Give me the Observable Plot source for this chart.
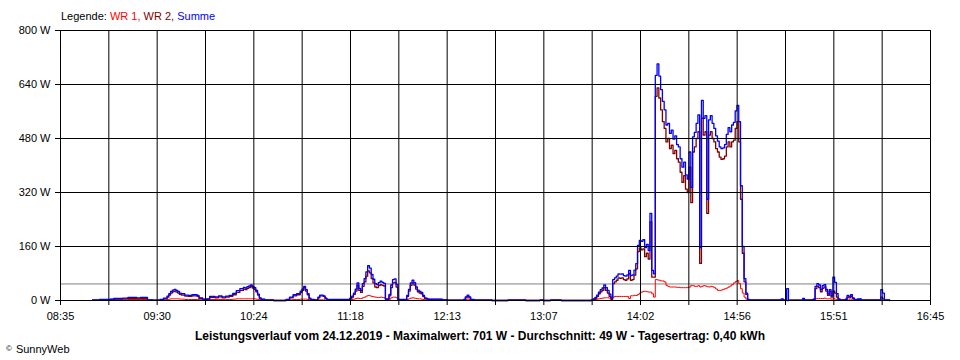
<!DOCTYPE html>
<html>
<head>
<meta charset="utf-8">
<script src="https://cdn.jsdelivr.net/npm/d3@7"></script>
<script src="https://cdn.jsdelivr.net/npm/@observablehq/plot@0.6"></script>
<style>
  body { margin: 0; background: #fff; font-family: "Liberation Sans", Arial, sans-serif; }
  #wrap { position: relative; width: 960px; height: 360px; overflow: hidden; background: #fff; }
  #chart { position: absolute; left: 0; top: 0; }
  #legend { position: absolute; left: 61px; top: 10px; font-size: 11px; line-height: 13px; color: #000; white-space: nowrap; }
  #caption { position: absolute; left: 0; width: 960px; top: 329px; text-align: center; font-weight: bold; font-size: 12px; color: #000; white-space: nowrap; }
  #copy { position: absolute; left: 6px; top: 342px; font-size: 11px; line-height: 13px; color: #000; white-space: nowrap; }
  #copy .c { font-size: 8px; vertical-align: 2px; margin-right: 4px; }
</style>
</head>
<body>
<div id="wrap">
  <div id="chart"></div>
  <div id="legend"></div>
  <div id="caption"></div>
  <div id="copy"></div>
</div>
<script>
// ---------- DATA ----------
const startTime = "08:35";
const endTime = "16:45";
const xTickLabels = ["08:35","09:30","10:24","11:18","12:13","13:07","14:02","14:56","15:51","16:45"];
const yTicks = [0, 160, 320, 480, 640, 800];
const average = 49;
const seriesNames = ["WR 1", "WR 2", "Summe"];
const seriesColors = ["#ff0000", "#800000", "#0000ff"];
const captionText = "Leistungsverlauf vom 24.12.2019 - Maximalwert: 701 W - Durchschnitt: 49 W - Tagesertrag: 0,40 kWh";
const creditSymbol = "©";
const creditText = "SunnyWeb";

const times = [
  "08:53","08:57","09:03","09:05","09:10","09:13","09:18","09:20","09:24","09:27",
  "09:31","09:33","09:35","09:36","09:37","09:38","09:39","09:40","09:41","09:42",
  "09:43","09:45","09:47","09:49","09:52","09:53","09:55","09:57","09:59","10:02",
  "10:04","10:06","10:08","10:10","10:12","10:14","10:16","10:18","10:19","10:20",
  "10:21","10:22","10:23","10:24","10:25","10:26","10:27","10:28","10:30","10:35",
  "10:42","10:44","10:46","10:48","10:50","10:51","10:52","10:53","10:54","10:55",
  "10:56","10:58","11:00","11:01","11:03","11:04","11:05",
  "11:18","11:19","11:20","11:21","11:22","11:23","11:24","11:25","11:26","11:27",
  "11:28","11:29","11:30","11:31","11:32","11:33","11:34","11:35","11:36","11:37",
  "11:38","11:40","11:41","11:42","11:43","11:44","11:45","11:50","11:51","11:52",
  "11:53","11:54","11:55","11:56","11:57","11:58","11:59","12:00","12:01","12:02",
  "12:10","12:13","12:22","12:23","12:24","12:25","12:26","12:28","12:38","12:47",
  "12:57","13:05","13:07","13:11","13:17",
  "13:34","13:35","13:36","13:37","13:38","13:39","13:40","13:41","13:42","13:43",
  "13:44","13:45","13:46","13:47","13:48","13:49","13:50","13:51","13:52","13:53",
  "13:54","13:55","13:56","13:57","13:58","13:59",
  "14:00","14:01","14:02","14:03","14:04","14:05","14:06","14:07","14:08","14:09",
  "14:10","14:11","14:12","14:13","14:14","14:15","14:16","14:17","14:18","14:19",
  "14:20","14:21","14:22","14:23","14:24","14:25","14:26","14:27","14:28","14:29",
  "14:30","14:31","14:32","14:33","14:34","14:35","14:36","14:37","14:38","14:39",
  "14:40","14:41","14:42","14:43","14:44","14:45","14:46","14:47","14:48","14:49",
  "14:50","14:51","14:52","14:53","14:54","14:55","14:56","14:57","14:58","14:59",
  "15:00","15:01","15:02","15:03",
  "15:21","15:22","15:24","15:25","15:33","15:34","15:39","15:40","15:41","15:42",
  "15:43","15:44","15:45","15:46","15:47","15:48","15:49","15:50","15:51","15:52",
  "15:53","15:54","15:57","15:58","15:59","16:00","16:01","16:02","16:04","16:06",
  "16:17","16:18","16:19","16:22"
];

const wr1 = [
  0,1,1,2,2,3,3,3,1,0,
  1,2,3,4,5,5,5,5,5,4,
  4,3,3,3,3,2,1,2,3,3,
  3,3,3,3,4,5,5,5,5,5,
  5,5,5,5,4,3,2,1,1,0,
  1,2,3,3,4,4,4,4,3,2,
  1,1,2,2,2,1,1,
  2,3,4,6,7,6,6,8,10,13,
  15,14,12,11,10,9,9,10,9,8,
  2,4,8,10,10,8,1,3,5,7,
  8,7,6,5,5,4,3,2,2,1,
  0,0,1,3,4,3,1,0,0,0,
  0,0,0,0,0,
  1,2,3,4,5,6,7,8,8,8,
  7,5,10,12,12,12,12,12,12,12,
  12,6,14,14,15,15,
  18,22,25,27,27,26,25,25,20,10,
  62,61,60,58,58,55,45,42,40,40,
  40,40,39,39,38,38,38,38,39,40,
  45,44,42,42,44,40,42,44,43,41,
  40,42,41,38,34,30,30,31,33,35,
  37,40,43,47,52,56,59,50,35,22,
  10,4,1,0,
  0,0,0,0,0,0,1,5,6,6,
  6,6,7,5,5,5,4,5,4,3,
  2,1,1,2,2,2,1,1,1,0,
  1,0,0,0
];

const wr2 = [
  1,2,3,4,5,6,5,6,1,1,
  2,5,10,16,22,26,28,25,22,18,
  16,13,12,14,12,6,3,3,9,8,
  11,8,10,12,17,24,30,34,32,36,
  38,41,37,33,26,16,6,3,1,0,
  2,8,14,17,24,30,38,28,17,5,
  2,1,8,14,12,6,2,
  5,10,18,28,45,30,24,42,55,72,
  88,82,65,52,40,38,44,47,45,43,
  3,14,38,52,54,40,2,12,28,45,
  52,46,34,26,22,20,12,6,4,3,
  2,1,2,8,12,8,2,1,0,1,
  0,1,0,1,0,
  1,3,6,12,20,26,30,38,30,22,
  12,3,50,55,60,67,66,67,62,60,
  64,80,60,62,75,94,
  145,156,150,153,130,140,123,233,69,69,
  605,630,600,565,530,510,470,480,450,460,
  435,445,420,410,380,350,370,330,320,395,
  290,440,455,480,500,110,540,490,500,258,
  490,500,480,470,450,440,425,418,420,428,
  455,470,455,470,475,510,530,470,300,140,
  55,18,2,1,
  3,1,0,1,3,1,3,35,42,38,
  26,36,40,28,15,27,10,28,22,10,
  3,1,3,10,8,12,6,2,3,1,
  10,5,1,0
];

const summe = [
  2,3,4,6,7,9,8,9,2,1,
  3,7,13,20,27,31,33,30,27,22,
  20,16,15,17,15,8,4,5,12,11,
  14,11,13,15,21,29,35,39,37,41,
  43,46,42,38,30,19,8,4,2,0,
  3,10,17,20,28,34,42,32,20,7,
  3,2,10,16,14,7,3,
  7,13,22,34,52,36,30,50,65,85,
  103,96,77,63,50,47,53,57,54,51,
  5,18,46,62,64,48,3,15,33,52,
  60,53,40,31,27,24,15,8,6,4,
  2,1,3,11,16,11,3,2,0,2,
  0,2,0,2,0,
  2,5,9,16,25,32,37,46,38,30,
  19,8,62,67,72,79,78,79,74,72,
  76,89,74,76,90,109,
  163,178,175,180,157,166,148,258,89,79,
  667,701,665,625,590,565,520,525,495,505,
  478,488,462,455,420,395,410,372,360,440,
  335,485,498,525,550,157,593,540,548,300,
  535,548,525,510,488,472,455,450,452,462,
  492,512,500,520,528,562,578,530,340,160,
  65,22,3,2,
  5,2,35,1,6,2,4,42,50,46,
  32,44,47,33,20,32,14,69,54,20,
  5,2,4,15,12,17,8,3,5,2,
  32,22,2,0
];

// ---------- BUILD ----------
const toMin = s => { const [h, m] = s.split(":").map(Number); return h * 60 + m; };
const t0 = toMin(startTime), t1 = toMin(endTime);
const rows = times.map((t, i) => ({ m: toMin(t), wr1: wr1[i], wr2: wr2[i], summe: summe[i] }));

// 18 equal divisions of the time span, label every second one
const nDiv = 18;
const xTicks = d3.range(nDiv + 1).map(i => t0 + i * (t1 - t0) / nDiv);
const xFmt = d => {
  const i = Math.round((d - t0) / ((t1 - t0) / nDiv));
  return i % 2 === 0 ? xTickLabels[i / 2] : "";
};

const chart = Plot.plot({
  width: 960,
  height: 320,
  marginLeft: 60,
  marginRight: 30,
  marginTop: 30,
  marginBottom: 20,
  x: { type: "linear", domain: [t0, t1], label: null },
  y: { domain: [0, 800], label: null },
  style: { fontFamily: "'Liberation Sans', Arial, sans-serif", fontSize: "11px", color: "#000", background: "transparent", overflow: "visible" },
  marks: [
    Plot.ruleY([average], { stroke: "#808080", strokeWidth: 1 }),
    Plot.line(rows, { x: "m", y: "wr1", stroke: seriesColors[0], strokeWidth: 1, curve: "step-after" }),
    Plot.line(rows, { x: "m", y: "wr2", stroke: seriesColors[1], strokeWidth: 1.3, curve: "step-after" }),
    Plot.line(rows, { x: "m", y: "summe", stroke: seriesColors[2], strokeWidth: 1.3, curve: "step-after" }),
    Plot.gridX(xTicks, { stroke: "#000", strokeOpacity: 1, strokeWidth: 1 }),
    Plot.gridY(yTicks, { stroke: "#000", strokeOpacity: 1, strokeWidth: 1 }),
    Plot.axisX(xTicks, { tickSize: 5, tickPadding: 7, tickFormat: xFmt, label: null, stroke: "#000", fill: "#000" }),
    Plot.axisY(yTicks, { tickSize: 5, tickPadding: 5, tickFormat: d => d + " W", label: null, stroke: "#000", fill: "#000" })
  ]
});
document.getElementById("chart").appendChild(chart);

// legend
const legend = document.getElementById("legend");
legend.appendChild(document.createTextNode("Legende: "));
seriesNames.forEach((n, i) => {
  const s = document.createElement("span");
  s.style.color = seriesColors[i];
  s.textContent = n + (i < seriesNames.length - 1 ? ", " : "");
  legend.appendChild(s);
});
document.getElementById("caption").textContent = captionText;
const copy = document.getElementById("copy");
const sym = document.createElement("span");
sym.className = "c";
sym.textContent = creditSymbol;
copy.appendChild(sym);
copy.appendChild(document.createTextNode(creditText));
</script>
</body>
</html>
